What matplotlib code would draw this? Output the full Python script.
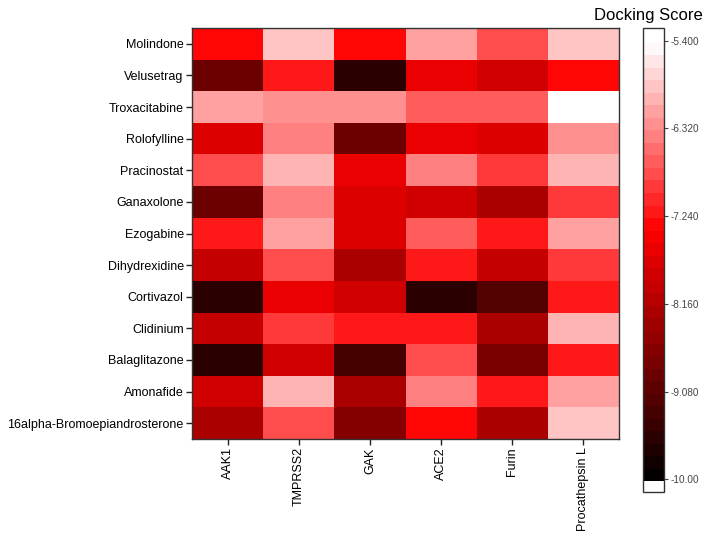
import numpy as np
import matplotlib
matplotlib.use("Agg")
import matplotlib.pyplot as plt
from matplotlib.colors import LinearSegmentedColormap, ListedColormap, BoundaryNorm

plt.rcParams['font.family'] = ['Liberation Sans', 'DejaVu Sans']

compounds = ["Molindone", "Velusetrag", "Troxacitabine", "Rolofylline", "Pracinostat",
             "Ganaxolone", "Ezogabine", "Dihydrexidine", "Cortivazol", "Clidinium",
             "Balaglitazone", "Amonafide", "16alpha-Bromoepiandrosterone"]
targets = ["AAK1", "TMPRSS2", "GAK", "ACE2", "Furin", "Procathepsin L"]

aak1 = [-7.35, -8.84, -6.13, -7.71, -6.80, -8.84, -7.23, -8.00, -9.56, -8.00, -9.56, -7.80, -8.17]
tmprss2 = [-5.82, -7.11, -6.31, -6.38, -5.94, -6.38, -6.07, -6.74, -7.59, -6.86, -7.84, -5.94, -6.80]
gak = [-7.27, -9.56, -6.25, -8.84, -7.59, -7.71, -7.67, -8.25, -7.80, -7.11, -9.25, -8.17, -8.59]
ace2 = [-6.13, -7.63, -6.62, -7.63, -6.38, -7.84, -6.62, -7.23, -9.57, -7.23, -6.80, -6.43, -7.30]
furin = [-6.80, -7.84, -6.62, -7.71, -6.86, -8.17, -7.23, -8.00, -9.09, -8.25, -8.75, -7.11, -8.25]
procathepsin_l = [-5.82, -7.27, -5.40, -6.25, -5.94, -6.86, -6.07, -6.86, -7.11, -5.94, -7.11, -6.07, -5.82]

cbar_ticks = [-5.4, -6.32, -7.24, -8.16, -9.08, -10.0]
cbar_ticklabels = ["-5.400", "-6.320", "-7.240", "-8.160", "-9.080", "-10.00"]

data = np.array([aak1, tmprss2, gak, ace2, furin, procathepsin_l]).T

vmin, vmax = -10.0, -5.4
base = LinearSegmentedColormap.from_list(
    "wrk", [(0.0, "#000000"), ((-7.35 - vmin) / (vmax - vmin), "#ff0000"), (1.0, "#ffffff")])
step = (vmax - vmin) / 35.0
lo = vmin - step
hi = vmax + step
bounds = np.arange(37) * step + lo
bounds = np.append(bounds, hi)
nb = len(bounds) - 1
cols = []
for i in range(nb):
    c = 0.5 * (bounds[i] + bounds[i + 1])
    if c < vmin:
        cols.append((1, 1, 1, 1))
    else:
        cols.append(base(np.clip((c - vmin) / (vmax - vmin), 0, 1)))
cmap = ListedColormap(cols)
norm = BoundaryNorm(bounds, cmap.N)

fig = plt.figure(figsize=(7.08, 5.39), dpi=100)
W, H = 708, 539
ax = fig.add_axes([192 / W, 1 - 439 / H, (619 - 192) / W, (439 - 28) / H])
ax.pcolormesh(np.arange(len(targets) + 1), np.arange(len(compounds) + 1), data,
              cmap=cmap, norm=norm)
ax.set_xlim(0, len(targets))
ax.set_ylim(len(compounds), 0)
ax.set_xticks(np.arange(len(targets)) + 0.5)
ax.set_xticklabels(targets, rotation=90, fontsize=9)
ax.set_yticks(np.arange(len(compounds)) + 0.5)
ax.set_yticklabels(compounds, fontsize=9)
ax.tick_params(length=4, width=1, color="#222222", pad=2)
for s in ax.spines.values():
    s.set_linewidth(1.0)
    s.set_color("#333333")

cax = fig.add_axes([643 / W, 1 - 492 / H, (664 - 643) / W, (492 - 28) / H])
cb = fig.colorbar(plt.cm.ScalarMappable(norm=norm, cmap=cmap), cax=cax,
                  boundaries=bounds, spacing="proportional")
cax.set_ylim(lo, hi)
cb.set_ticks(cbar_ticks)
cb.set_ticklabels(cbar_ticklabels)
cax.minorticks_off()
cax.tick_params(which="minor", length=0)
cax.tick_params(labelsize=7.2, length=3, width=0.8, colors="#444444", pad=2)
cb.outline.set_linewidth(1.0)
cb.outline.set_edgecolor("#333333")
cb.solids.set_edgecolor("face")

fig.text(703 / W, 1 - 20 / H, "Docking Score", ha="right", va="baseline", fontsize=12)

fig.savefig("out.png", dpi=100)
